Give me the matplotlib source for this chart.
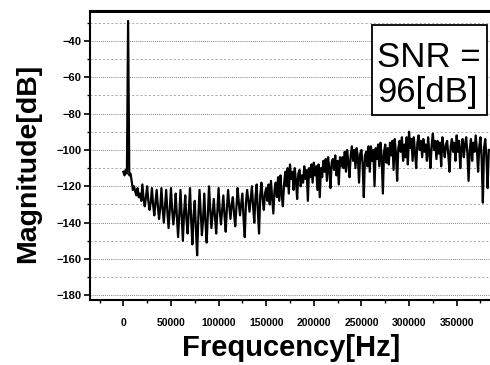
import numpy as np
import matplotlib
matplotlib.use("Agg")
import matplotlib.pyplot as plt
from matplotlib.patches import Rectangle
from matplotlib.ticker import MultipleLocator

plt.rcParams['font.family'] = ['Liberation Sans', 'DejaVu Sans']

# FFT bin spacing (Hz) and magnitudes (dB), 8 bins per row = 10 kHz
bin_step = 1250
magnitude_db = [
    -112, -114, -111, -113, -29, -114, -113, -117,
    -122, -120, -123, -125, -121, -126, -124, -128,
    -119, -127, -131, -126, -120, -128, -133, -129,
    -121, -130, -136, -129, -122, -131, -138, -132,
    -121, -132, -140, -131, -122, -134, -143, -133,
    -121, -133, -141, -134, -124, -137, -148, -136,
    -122, -136, -150, -135, -125, -138, -146, -134,
    -121, -139, -152, -136, -128, -144, -158, -137,
    -122, -135, -147, -138, -124, -140, -151, -136,
    -120, -133, -143, -135, -127, -137, -146, -134,
    -121, -134, -141, -133, -125, -136, -145, -132,
    -122, -131, -138, -130, -126, -135, -142, -131,
    -121, -129, -136, -130, -124, -138, -148, -129,
    -122, -128, -134, -127, -120, -131, -140, -126,
    -119, -134, -146, -125, -118, -127, -133, -124,
    -121, -128, -119, -130, -117, -126, -135, -122,
    -118, -126, -115, -128, -114, -124, -131, -119,
    -112, -120, -110, -124, -108, -116, -112, -122,
    -110, -117, -127, -113, -111, -120, -114, -118,
    -109, -116, -111, -128, -110, -115, -108, -118,
    -107, -114, -109, -122, -108, -126, -110, -115,
    -106, -112, -105, -117, -104, -110, -121, -107,
    -105, -111, -103, -114, -106, -119, -104, -109,
    -104, -110, -101, -112, -100, -107, -115, -103,
    -98, -106, -100, -110, -99, -104, -118, -102,
    -100, -108, -126, -103, -101, -109, -98, -112,
    -98, -106, -100, -120, -99, -105, -97, -109,
    -96, -104, -124, -101, -97, -107, -99, -108,
    -96, -103, -95, -111, -94, -102, -117, -99,
    -95, -101, -93, -106, -97, -104, -93, -108,
    -90, -99, -94, -106, -93, -101, -110, -96,
    -92, -100, -95, -104, -94, -101, -97, -106,
    -93, -101, -110, -97, -91, -100, -95, -105,
    -95, -102, -96, -109, -93, -99, -104, -97,
    -95, -103, -112, -98, -94, -101, -96, -106,
    -92, -101, -95, -110, -99, -94, -104, -97,
    -93, -102, -117, -100, -94, -106, -96, -101,
    -92, -100, -112, -98, -93, -105, -129, -99,
    -94, -104, -121, -100,
]
freq_hz = np.arange(len(magnitude_db)) * bin_step

x_ticks = [0, 50000, 100000, 150000, 200000, 250000, 300000, 350000]
y_ticks = [-40, -60, -80, -100, -120, -140, -160, -180]
snr_text = "SNR =\n96[dB]"

W, H = 490, 365
fig = plt.figure(figsize=(W / 100, H / 100), dpi=100)
ax = fig.add_axes([90 / W, 1 - 300 / H, 400 / W, 289 / H])

ax.plot(freq_hz, magnitude_db, color='black', lw=1.6, zorder=3)

ax.set_xlim(-35000, 385000)
ax.set_ylim(-182.6, -23.5)
ax.set_xticks(x_ticks)
ax.set_yticks(y_ticks)
ax.xaxis.set_minor_locator(MultipleLocator(25000))
ax.yaxis.set_minor_locator(MultipleLocator(10))

ax.grid(axis='y', which='major', color='#555555', linestyle=(0, (1, 1.5)), lw=0.6)
ax.grid(axis='y', which='minor', color='#888888', linestyle=(0, (3, 3)), lw=0.5)

for lab in ax.get_xticklabels():
    lab.set_fontweight('bold')
    lab.set_fontsize(7.5)
for lab in ax.get_yticklabels():
    lab.set_fontweight('bold')
    lab.set_fontsize(8)
ax.tick_params(axis='both', which='major', direction='out', length=4, width=1.2, pad=2)
ax.tick_params(axis='both', which='minor', direction='out', length=2.5, width=1.0)
ax.tick_params(axis='x', pad=9)

ax.spines['right'].set_visible(False)
ax.spines['left'].set_linewidth(1.5)
ax.spines['bottom'].set_linewidth(1.5)
ax.spines['top'].set_linewidth(2.2)

fig.text(28 / W, 1 - 163 / H, "Magnitude[dB]", rotation=90, ha='center', va='center',
         fontsize=20.5, fontweight='bold')
fig.text(291 / W, 1 - 348 / H, "Frequcency[Hz]", ha='center', va='center',
         fontsize=21, fontweight='bold')

fig.patches.append(Rectangle((372 / W, 1 - 115 / H), 115 / W, 90 / H,
                             transform=fig.transFigure, facecolor='white',
                             edgecolor='black', lw=1.3, zorder=5))
fig.text(377 / W, 1 - 75 / H, snr_text, ha='left', va='center', fontsize=25,
         linespacing=1.05, zorder=6)

fig.savefig("out.png", dpi=100)
